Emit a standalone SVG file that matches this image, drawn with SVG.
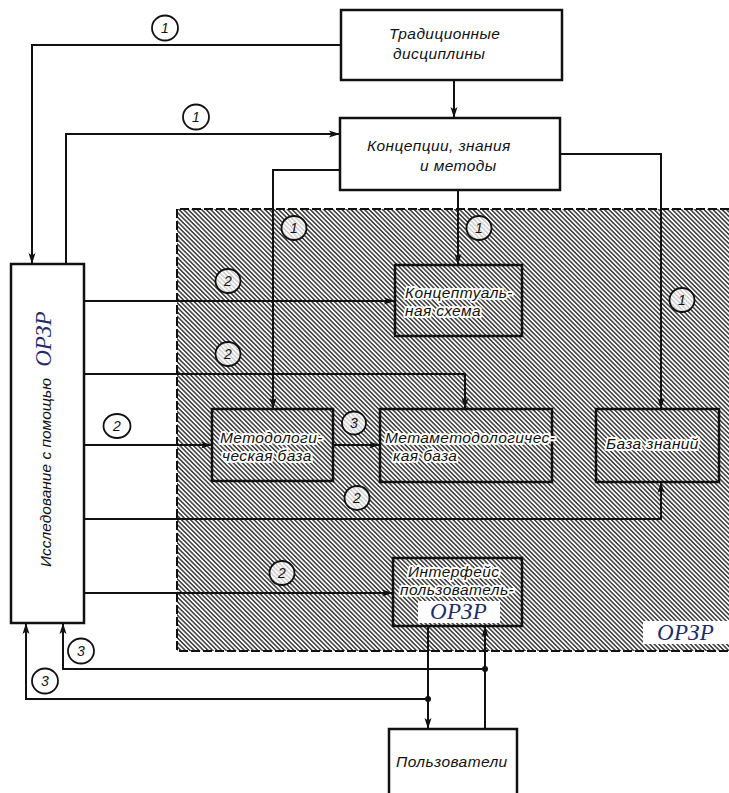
<svg xmlns="http://www.w3.org/2000/svg" width="729" height="793" viewBox="0 0 729 793">
<style>
.box{fill:#fff;stroke:#111;stroke-width:2.5}
.hbox{fill:none;stroke:#111;stroke-width:2.5}
.t{font-family:"Liberation Sans",Arial,sans-serif;font-style:italic;font-size:15.5px;fill:#111;letter-spacing:0.4px}
.ht{paint-order:stroke;stroke:#fff;stroke-width:4;stroke-linejoin:round}
.o{font-family:"Liberation Serif","Times New Roman",serif;font-style:italic;font-size:23px;fill:#1f2c6a;letter-spacing:0.5px}
.c{fill:#fff;stroke:#111;stroke-width:1.8}
.ch{fill:#fff;fill-opacity:0.75;stroke:#111;stroke-width:1.8}
.n{font-family:"Liberation Sans",Arial,sans-serif;font-style:italic;font-size:14px;fill:#111;text-anchor:middle}
.ln{fill:none;stroke:#111;stroke-width:2;marker-end:url(#ar)}
</style>
<defs>
<pattern id="hatch" patternUnits="userSpaceOnUse" width="3.2" height="10" patternTransform="rotate(-45)">
<rect width="3.2" height="10" fill="#fff"/>
<line x1="0.8" y1="0" x2="0.8" y2="10" stroke="#222" stroke-width="1.35"/>
</pattern>
<marker id="ar" markerUnits="userSpaceOnUse" markerWidth="12" markerHeight="8" refX="11" refY="4" orient="auto">
<path d="M0,0.5 L11,4 L0,7.5 L2.5,4 Z" fill="#111"/>
</marker>
</defs>
<rect width="729" height="793" fill="#fff"/>

<g id="oprzr-region">
<rect x="177" y="209" width="560" height="442" fill="url(#hatch)"/>
<path d="M729,209 H177 V651 H729" fill="none" stroke="#111" stroke-width="2" stroke-dasharray="9,3"/>
<rect x="643" y="621" width="86" height="23" fill="#fff"/>
<text class="o" x="657" y="640">ОРЗР</text>
</g>

<g id="connectors">
<path class="ln" d="M454,80 V118"/>
<path class="ln" d="M341,45 H32 V264"/>
<path class="ln" d="M66,264 V134 H340"/>
<path class="ln" d="M458,190 V265"/>
<path class="ln" d="M340,170 H273 V409"/>
<path class="ln" d="M560,154 H661 V409"/>
<path class="ln" d="M84,301 H395"/>
<path class="ln" d="M84,374 H465 V409"/>
<path class="ln" d="M84,445 H212"/>
<path class="ln" d="M333,445 H380"/>
<path class="ln" d="M84,519 H661 V482"/>
<path class="ln" d="M84,593 H393"/>
<path class="ln" d="M428,626 V729"/>
<path class="ln" d="M485,729 V626"/>
<path class="ln" d="M485,669 H63 V623"/>
<path class="ln" d="M428,699 H26 V623"/>
<circle cx="485" cy="669" r="3" fill="#111"/>
<circle cx="428" cy="699" r="3" fill="#111"/>
<g id="labels">
<ellipse class="c" cx="165" cy="28" rx="13" ry="12.5"/><text class="n" x="165" y="33">1</text>
<ellipse class="c" cx="196" cy="117" rx="13" ry="12.5"/><text class="n" x="196" y="122">1</text>
<ellipse class="ch" cx="294" cy="228" rx="12.5" ry="12"/><text class="n" x="294" y="233">1</text>
<ellipse class="ch" cx="479" cy="228" rx="12.5" ry="12"/><text class="n" x="479" y="233">1</text>
<ellipse class="ch" cx="682" cy="300" rx="12.5" ry="12"/><text class="n" x="682" y="305">1</text>
<ellipse class="ch" cx="228" cy="281" rx="12.5" ry="12"/><text class="n" x="228" y="286">2</text>
<ellipse class="ch" cx="228" cy="354" rx="12.5" ry="12"/><text class="n" x="228" y="359">2</text>
<ellipse class="c" cx="117" cy="426" rx="13.5" ry="12"/><text class="n" x="117" y="431">2</text>
<ellipse class="ch" cx="354" cy="423" rx="12" ry="11.5"/><text class="n" x="354" y="428">3</text>
<ellipse class="ch" cx="357" cy="498" rx="12.5" ry="12"/><text class="n" x="357" y="503">2</text>
<ellipse class="ch" cx="282" cy="573" rx="12.5" ry="12"/><text class="n" x="282" y="578">2</text>
<ellipse class="c" cx="81" cy="651" rx="13" ry="12.5"/><text class="n" x="81" y="656">3</text>
<ellipse class="c" cx="45" cy="681" rx="13" ry="12.5"/><text class="n" x="45" y="686">3</text>
</g>
</g>

<g id="traditional">
<rect class="box" x="341" y="10" width="221" height="70"/>
<text class="t" x="389" y="39">Традиционные</text>
<text class="t" x="393" y="59">дисциплины</text>
</g>

<g id="concepts">
<rect class="box" x="340" y="118" width="220" height="72"/>
<text class="t" x="367" y="151">Концепции, знания</text>
<text class="t" x="420" y="171">и методы</text>
</g>

<g id="research">
<rect class="box" x="11" y="264" width="73" height="359"/>
<text class="t" style="letter-spacing:0" transform="translate(51,567) rotate(-90)">Исследование с помощью <tspan class="o" style="letter-spacing:0" dx="7">ОРЗР</tspan></text>
</g>

<g id="conceptual-scheme">
<rect class="hbox" x="395" y="265" width="127" height="71"/>
<text class="t ht" x="405" y="298">Концептуаль-</text>
<text class="t ht" x="405" y="316">ная схема</text>
</g>

<g id="methodological-base">
<rect class="hbox" x="212" y="409" width="121" height="72"/>
<text class="t ht" x="220" y="443">Методологи-</text>
<text class="t ht" x="222" y="461">ческая база</text>
</g>

<g id="metamethodological-base">
<rect class="hbox" x="380" y="409" width="172" height="73"/>
<text class="t ht" x="385" y="443">Метаметодологичес-</text>
<text class="t ht" x="393" y="461">кая база</text>
</g>

<g id="knowledge-base">
<rect class="hbox" x="596" y="409" width="123" height="73"/>
<text class="t ht" x="606" y="449">База знаний</text>
</g>

<g id="user-interface">
<rect class="hbox" x="393" y="558" width="129" height="68"/>
<text class="t ht" x="408" y="577">Интерфейс</text>
<text class="t ht" x="400" y="595">пользователь-</text>
<rect x="418" y="601" width="82" height="22" fill="#fff"/>
<text class="o" x="430" y="619">ОРЗР</text>
</g>

<g id="users">
<rect class="box" x="389" y="729" width="128" height="80"/>
<text class="t" x="396" y="767">Пользователи</text>
</g>
</svg>
